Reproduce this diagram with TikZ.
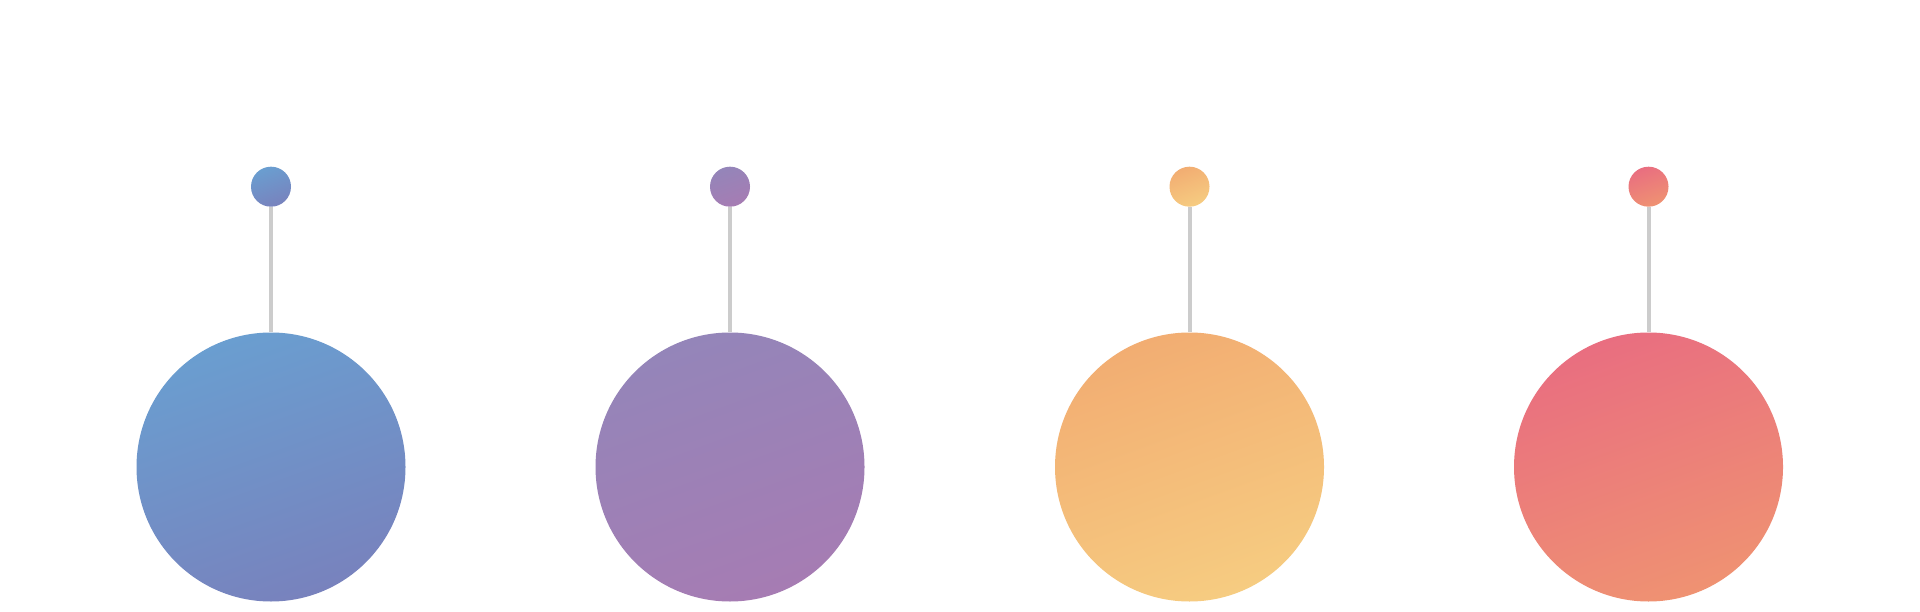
\documentclass[tikz,border=0pt]{standalone}
\begin{document}
\begin{tikzpicture}[x=0.5pt,y=0.5pt,
  big/.style={circle, inner sep=0pt, minimum size=134.5pt, draw=none},
  small/.style={circle, inner sep=0pt, minimum size=20pt, draw=none},
  stem/.style={draw=black!20, line width=2pt}]
\definecolor{aT}{HTML}{6A9ED0}\definecolor{aB}{HTML}{7882BD}
\definecolor{bT}{HTML}{9485B9}\definecolor{bB}{HTML}{A67CB3}
\definecolor{cT}{HTML}{F2AD72}\definecolor{cB}{HTML}{F6CC81}
\definecolor{dT}{HTML}{E96E80}\definecolor{dB}{HTML}{EF9272}
\fill[white] (0,0) rectangle (1920,611);
\useasboundingbox (0,0) rectangle (1920,611);
\foreach \i/\x/\t/\b in {1/271/aT/aB,2/730/bT/bB,3/1189.5/cT/cB,4/1648.5/dT/dB}{
  \node[big, top color=\t, bottom color=\b, shading angle=20] (b\i) at (\x,144) {};
  \node[small, top color=\t, bottom color=\b, shading angle=20] (s\i) at (\x,424.3) {};
  \draw[stem] (s\i.south) -- (b\i.north);
}
\end{tikzpicture}
\end{document}
